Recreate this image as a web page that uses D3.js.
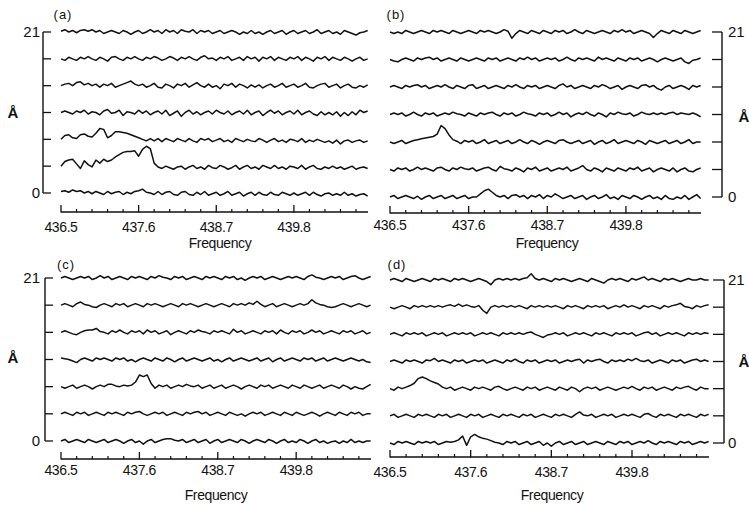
<!DOCTYPE html>
<html><head><meta charset="utf-8">
<script src="https://d3js.org/d3.v7.min.js"></script>
<style>html,body{margin:0;padding:0;background:#fff;}svg{display:block;}</style>
</head><body>
<svg id="chart" width="749" height="506"></svg>
<script>
// ---------------- DATA ----------------
const freqs = [436.5,436.555,436.61,436.665,436.72,436.775,436.83,436.885,436.94,436.995,
437.05,437.105,437.16,437.215,437.27,437.325,437.38,437.435,437.49,437.545,
437.6,437.655,437.71,437.765,437.82,437.875,437.93,437.985,438.04,438.095,
438.15,438.205,438.26,438.315,438.37,438.425,438.48,438.535,438.59,438.645,
438.7,438.755,438.81,438.865,438.92,438.975,439.03,439.085,439.14,439.195,
439.25,439.305,439.36,439.415,439.47,439.525,439.58,439.635,439.69,439.745,
439.8,439.855,439.91,439.965,440.02,440.075,440.13,440.185,440.24,440.295,
440.35,440.405,440.46,440.515,440.57,440.625,440.68,440.735,440.79,440.845];
const levels = [0, 3.5, 7, 10.5, 14, 17.5, 21];
const yTickLabels = {0: "0", 21: "21"};
const majorTicks = [436.5, 437.6, 438.7, 439.8];
const minorTicks = [436.72,436.94,437.16,437.38,437.82,438.04,438.26,438.48,438.92,439.14,439.36,439.58,440.02,440.24,440.46,440.68];
const xLabel = "Frequency";
const yLabel = "Å";

// panel (a): deviation (Å) of each trace from its level, bottom (0) to top (21)
const pa0 = [0.2,0.3,0.1,0.4,0.2,0.3,0.0,0.2,-0.1,0.2, 0.0,-0.2,0.2,-0.1,0.1,0.2,-0.2,0.1,-0.1,0.2, 0.3,0.5,0.1,0.0,-0.2,0.2,-0.2,0.1,0.2,-0.2, -0.3,0.1,0.2,-0.2,-0.3,0.1,-0.2,0.2,-0.3,-0.1, 0.1,-0.3,-0.1,0.2,-0.3,-0.1,0.1,-0.4,-0.1,0.1, -0.3,0.1,-0.2,-0.3,0.1,-0.2,-0.3,0.1,-0.1,-0.3, 0.0,-0.3,-0.1,0.1,-0.3,0.1,-0.2,-0.4,-0.1,0.0, -0.3,-0.1,-0.3,0.1,-0.3,-0.1,-0.4,-0.2,-0.1,-0.4];
const pa1 = [0.0,0.6,0.8,0.9,0.3,-0.3,0.7,0.2,-0.1,0.8, 0.4,0.9,0.6,0.8,1.2,1.5,1.8,1.9,1.9,2.0, 1.3,2.2,2.6,2.3,0.4,-0.1,-0.3,0.0,-0.2,-0.4, -0.1,0.0,-0.4,-0.1,0.1,-0.3,-0.1,-0.4,0.1,-0.2, -0.3,0.1,-0.1,-0.4,-0.2,0.1,-0.4,-0.1,0.1,-0.3, -0.1,-0.4,0.1,-0.1,-0.3,0.1,-0.3,-0.1,-0.4,0.0, -0.1,-0.3,0.1,-0.4,-0.1,0.1,-0.3,-0.4,-0.1,-0.3, 0.0,-0.3,-0.1,-0.4,-0.2,0.0,-0.4,-0.2,-0.1,-0.3];
const pa2 = [0.0,0.5,0.6,0.2,0.1,0.6,0.7,0.4,0.3,0.8, 1.4,1.3,0.2,0.5,1.0,1.0,0.9,0.8,0.6,0.4, 0.2,0.0,-0.2,0.1,-0.2,0.1,-0.3,0.1,-0.1,-0.3, 0.1,-0.1,-0.3,0.1,-0.2,-0.4,0.1,-0.1,0.1,-0.3, -0.1,0.1,-0.3,-0.1,-0.4,0.1,-0.1,-0.3,0.0,-0.2, -0.3,0.1,-0.1,-0.4,-0.1,0.1,-0.3,-0.1,-0.4,0.0, -0.1,-0.3,0.1,-0.4,-0.1,-0.3,0.0,-0.2,-0.4,-0.2, -0.5,-0.1,-0.6,-0.2,-0.1,-0.4,-0.2,-0.1,-0.4,-0.2];
const pa3 = [0.0,0.2,0.0,-0.2,0.2,0.0,0.3,-0.2,0.1,0.0, -0.3,0.2,0.4,-0.1,0.0,0.3,-0.4,0.1,0.0,-0.2, 0.3,-0.1,0.2,-0.3,0.0,0.2,-0.2,0.3,-0.4,-0.1, 0.2,-0.5,0.0,0.3,-0.2,0.1,-0.3,0.0,0.2,-0.2, 0.3,0.0,-0.2,0.2,-0.3,0.0,0.2,-0.2,0.3,-0.3, 0.0,0.2,-0.4,0.0,0.3,-0.1,0.2,-0.3,0.0,0.2, -0.2,0.3,-0.3,0.0,0.2,-0.2,-0.4,0.1,-0.3,0.0, -0.3,0.1,-0.5,0.0,-0.4,0.1,-0.3,0.3,0.0,0.2];
const pa4 = [0.0,0.2,0.3,0.0,0.4,0.5,0.1,0.3,0.0,0.2, -0.2,0.2,0.0,0.3,-0.2,0.0,0.2,0.4,0.6,0.2, 0.0,0.2,-0.2,0.0,0.3,-0.2,-0.3,0.2,0.0,-0.3, 0.2,0.0,0.3,-0.2,0.1,0.4,0.0,-0.2,0.2,-0.2, 0.0,-0.4,0.2,0.0,0.3,-0.2,0.2,0.0,-0.3,0.1, -0.2,0.1,-0.3,0.0,0.2,-0.2,0.0,0.3,-0.2,0.0, 0.2,-0.2,0.0,0.3,-0.2,-0.3,0.0,0.2,0.3,-0.2, 0.0,0.2,-0.3,0.0,0.2,-0.2,-0.3,0.0,-0.2,0.1];
const pa5 = [0.0,-0.2,0.2,0.0,-0.2,0.2,0.0,0.3,0.0,-0.2, 0.2,0.0,-0.3,0.2,0.3,0.0,-0.2,0.2,0.0,0.3, 0.0,-0.2,0.2,0.0,0.3,0.1,-0.2,0.0,0.3,0.1, -0.2,0.2,0.0,0.3,0.0,-0.2,0.2,0.4,0.0,0.1, -0.2,0.2,0.0,0.3,-0.2,0.0,0.2,-0.2,0.3,0.0, 0.2,-0.3,0.2,0.0,0.3,-0.2,0.2,0.0,-0.2,0.2, 0.0,0.3,-0.2,0.2,0.0,-0.3,0.2,0.0,0.3,-0.2, 0.2,0.0,-0.2,0.2,0.0,-0.3,0.0,0.2,-0.2,0.0];
const pa6 = [0.1,0.3,0.0,0.2,-0.1,0.2,0.3,0.1,0.3,0.0, 0.2,-0.2,0.0,0.2,0.0,-0.2,0.2,0.0,-0.3,0.0, 0.2,-0.2,0.0,0.3,0.0,0.2,-0.2,0.3,0.0,0.2, -0.2,0.3,0.1,0.0,0.3,-0.2,0.2,0.0,0.2,-0.2, 0.0,0.2,-0.2,0.0,0.2,0.0,-0.3,0.0,-0.2,0.2, -0.2,0.0,-0.3,0.0,0.2,-0.2,0.0,0.2,-0.3,0.0, 0.2,-0.2,0.0,0.2,-0.2,0.0,0.3,-0.2,0.0,0.2, -0.2,0.0,-0.3,0.2,0.0,-0.2,-0.4,-0.1,0.0,0.2];

// panel (b)
const pb0 = [0.0,0.2,-0.2,0.0,0.2,0.0,-0.2,0.1,-0.3,0.0, 0.2,-0.2,0.0,0.2,-0.2,0.0,0.2,-0.2,0.0,0.2, -0.2,0.0,0.0,0.4,0.8,1.0,0.6,0.2,0.0,0.2, -0.2,0.2,0.3,0.0,0.2,-0.2,0.2,0.0,0.3,-0.2, 0.2,0.0,0.4,0.1,-0.2,0.0,0.2,-0.2,0.0,0.2, -0.3,0.0,0.2,-0.2,0.0,0.3,-0.2,0.0,-0.3,0.2, 0.0,-0.2,0.2,0.0,-0.3,0.0,0.2,-0.2,0.0,-0.3, 0.2,-0.2,-0.3,0.0,-0.2,0.2,-0.3,0.0,0.3,-0.2];
const pb1 = [0.0,-0.2,0.2,0.0,0.2,-0.2,0.0,0.3,0.0,0.2, 0.0,-0.2,0.2,0.3,0.0,-0.2,0.2,0.0,0.3,0.1, 0.0,0.2,-0.2,0.0,0.2,0.3,0.0,-0.2,0.4,0.1, 0.0,-0.2,0.2,0.0,-0.3,0.2,0.0,0.3,-0.2,0.0, 0.2,-0.2,0.0,0.2,0.0,0.3,-0.2,0.0,0.2,0.5, 0.0,-0.2,0.2,0.0,-0.3,0.2,0.0,-0.2,0.2,0.0, -0.2,0.2,0.0,0.3,-0.2,0.0,0.2,-0.3,0.0,0.2, 0.0,-0.2,0.2,-0.3,0.0,0.2,-0.2,-0.3,0.0,0.2];
const pb2 = [0.0,-0.2,0.0,0.2,-0.2,0.0,0.2,0.3,0.4,0.5, 0.6,0.7,1.0,2.1,1.7,0.9,0.3,0.1,-0.2,0.2, 0.0,0.2,-0.2,0.0,0.3,-0.2,0.0,0.2,-0.2,0.0, 0.2,-0.2,0.0,0.3,0.0,-0.2,0.2,0.0,-0.3,0.0, 0.2,0.0,-0.2,0.2,0.3,0.0,-0.2,0.0,0.2,-0.2, 0.0,0.2,-0.3,0.0,0.2,-0.2,0.0,0.3,-0.2,0.0, 0.2,0.0,-0.2,0.2,0.0,-0.3,0.2,0.0,-0.2,0.0, 0.2,-0.2,0.0,0.2,-0.2,0.0,0.3,-0.2,0.0,0.0];
const pb3 = [0.0,0.2,0.0,0.2,-0.2,0.0,0.3,0.0,-0.2,0.2, 0.0,0.2,-0.2,0.0,0.2,0.0,0.3,0.1,0.0,-0.2, 0.2,0.0,-0.2,0.2,0.0,0.2,0.3,0.0,-0.2,0.2, 0.0,0.2,-0.2,0.0,0.3,0.1,0.0,-0.2,0.2,0.0, 0.2,-0.2,0.0,0.3,0.0,0.2,-0.3,0.0,0.2,0.0, 0.3,0.0,-0.2,0.2,0.0,-0.3,0.2,0.0,0.3,0.1, 0.0,0.2,-0.2,0.0,0.3,0.1,0.0,0.2,0.0,0.2, 0.0,0.2,0.3,0.0,0.2,0.1,0.0,0.2,0.0,-0.3];
const pb4 = [0.0,0.2,0.0,-0.2,0.2,0.0,0.2,0.3,0.0,0.2, -0.2,0.0,0.2,0.0,0.3,0.0,-0.2,0.2,0.0,-0.2, 0.2,0.3,-0.2,0.0,0.2,-0.2,0.0,0.2,0.0,-0.2, 0.2,0.0,0.3,0.0,-0.2,0.2,0.0,0.2,-0.2,0.0, 0.2,0.0,-0.2,0.2,0.4,0.0,0.2,-0.2,0.0,0.2, 0.0,-0.2,0.2,0.0,0.3,0.1,-0.2,0.0,0.2,-0.3, 0.0,0.2,0.0,-0.2,0.2,0.3,0.0,0.2,-0.2,-0.4, 0.0,0.2,-0.2,0.0,0.2,0.0,-0.3,0.2,0.0,0.2];
const pb5 = [0.0,-0.2,-0.3,0.0,0.2,0.0,-0.2,0.2,0.0,0.2, 0.3,0.0,0.2,-0.2,0.0,0.2,0.0,-0.2,0.2,0.0, -0.2,0.0,0.2,0.0,-0.2,0.2,0.0,0.2,-0.2,0.0, 0.2,0.0,-0.2,0.2,0.0,0.3,0.0,0.2,-0.2,0.0, 0.2,0.0,0.2,-0.2,0.0,0.3,0.0,-0.2,0.2,0.0, 0.2,0.0,-0.2,0.3,0.0,0.2,0.0,-0.2,0.2,0.0, -0.2,0.2,0.0,0.2,-0.2,0.0,0.2,0.0,-0.3,0.0, 0.2,0.0,-0.2,0.0,0.2,-0.3,-0.5,-0.1,0.0,0.2];
const pb6 = [0.0,-0.2,0.0,-0.2,0.2,0.0,-0.2,0.0,0.2,0.0, -0.2,0.2,0.0,0.2,0.0,-0.2,0.2,0.0,-0.2,0.0, 0.2,0.0,-0.2,0.2,0.0,0.2,0.0,-0.2,0.0,0.3, 0.1,-0.8,-0.2,0.2,0.0,-0.2,0.2,0.0,-0.2,0.2, 0.0,-0.2,0.2,0.0,0.2,-0.2,0.0,0.3,0.0,-0.2, 0.2,0.0,-0.2,0.0,0.2,0.0,-0.2,0.2,0.0,0.3, 0.0,0.2,-0.2,0.0,0.2,0.0,-0.2,-0.7,-0.2,0.2, 0.0,-0.2,0.2,0.0,-0.2,0.2,0.0,-0.2,0.0,0.2];

// panel (c)
const pc0 = [0.0,0.2,-0.2,0.0,0.2,0.0,-0.2,0.2,0.0,-0.2, 0.0,0.2,-0.2,0.0,0.2,0.0,-0.3,0.0,0.2,-0.2, 0.0,-0.4,0.0,0.2,-0.2,0.0,0.2,0.3,0.3,0.1, 0.0,0.2,-0.2,0.0,0.2,-0.2,0.0,0.2,-0.3,0.0, 0.2,-0.2,0.0,0.2,0.0,-0.2,0.2,0.0,-0.3,0.0, 0.2,0.0,-0.2,0.2,0.0,-0.3,0.0,0.2,-0.2,0.0, -0.2,0.2,0.0,-0.3,0.0,0.2,-0.2,0.0,-0.3,-0.1, 0.0,-0.3,0.0,-0.2,0.2,-0.2,0.0,-0.2,0.0,0.0];
const pc1 = [0.0,0.2,0.0,-0.2,0.2,0.0,0.2,-0.2,0.0,0.2, 0.0,-0.2,0.2,0.0,0.2,0.0,-0.2,0.2,0.0,0.2, 0.3,0.0,-0.2,0.0,0.2,0.0,0.2,-0.2,0.0,0.2, 0.0,-0.2,0.2,0.0,0.2,0.3,0.0,0.2,-0.2,0.0, 0.2,0.0,-0.2,0.2,0.0,-0.2,0.0,-0.3,0.0,0.2, 0.0,0.2,-0.2,0.0,0.2,0.0,-0.2,0.2,0.0,-0.2, 0.2,0.0,-0.2,0.0,0.2,0.0,-0.3,0.0,0.2,0.0, -0.2,0.2,0.0,-0.2,0.2,0.0,0.2,-0.2,0.0,0.0];
const pc2 = [0.0,-0.2,0.0,0.2,-0.2,0.0,0.2,0.0,-0.3,0.0, 0.2,0.0,0.3,0.3,0.1,0.0,0.2,0.1,0.2,0.6, 1.5,1.3,1.5,0.4,-0.2,0.2,0.0,0.2,-0.2,0.0, 0.2,0.0,0.3,0.1,0.0,0.2,-0.2,0.0,0.2,-0.2, 0.0,0.2,-0.2,0.0,0.2,0.0,-0.3,0.0,0.2,0.0, -0.2,0.2,0.0,0.2,-0.2,0.0,0.2,0.0,-0.2,0.2, 0.0,-0.2,0.2,0.0,-0.2,0.0,0.2,-0.2,0.0,0.2, 0.0,-0.2,0.2,0.0,-0.3,0.0,-0.2,-0.3,0.0,0.3];
const pc3 = [0.2,0.1,0.0,-0.2,-0.4,0.0,0.2,0.0,-0.2,0.2, 0.0,0.2,0.0,-0.2,0.2,0.0,0.2,-0.2,0.0,-0.3, 0.0,0.2,0.0,-0.2,0.2,0.0,-0.2,0.2,0.0,-0.3, 0.0,0.2,-0.2,0.0,0.2,0.0,-0.2,0.0,0.2,-0.2, 0.0,-0.3,0.0,0.2,-0.2,0.0,0.2,0.0,-0.2,0.0, 0.2,-0.2,0.0,0.2,-0.3,0.0,0.2,-0.2,0.0,0.2, 0.0,-0.2,0.2,0.0,0.2,-0.2,0.0,0.2,-0.2,0.0, 0.2,0.0,-0.2,0.0,0.2,0.0,-0.2,0.0,-0.3,-0.4];
const pc4 = [0.0,0.2,0.0,-0.2,-0.3,0.0,0.2,0.3,0.3,0.5, 0.1,0.0,-0.2,0.2,0.0,0.3,0.0,-0.2,0.2,0.0, 0.2,-0.2,0.3,0.0,0.2,-0.2,0.0,0.2,-0.3,0.0, 0.2,0.0,-0.2,0.2,0.0,0.3,0.1,0.0,-0.2,0.2, 0.0,0.2,0.0,-0.2,0.4,0.0,0.2,-0.2,0.0,0.2, 0.0,-0.2,0.2,0.0,0.2,-0.2,0.3,0.0,-0.2,0.2, 0.0,0.2,-0.2,0.0,0.3,0.0,0.2,-0.2,0.0,0.2, 0.0,-0.2,0.2,0.0,0.2,-0.2,0.0,0.2,-0.2,0.0];
const pc5 = [0.0,0.2,0.0,-0.2,0.2,0.4,0.1,0.0,-0.2,-0.3, 0.0,0.2,0.0,-0.2,0.2,0.0,0.2,-0.2,0.0,0.2, 0.0,-0.2,0.2,0.0,0.2,0.0,-0.2,0.0,0.2,0.0, -0.2,0.2,0.0,0.2,0.0,-0.2,0.0,0.2,0.0,-0.2, 0.0,0.2,0.0,-0.2,0.2,0.0,0.2,0.0,0.3,0.1, 0.5,0.1,-0.2,0.0,0.2,-0.2,0.0,0.2,0.0,-0.2, 0.0,0.2,0.0,0.2,0.7,0.3,0.1,0.0,-0.2,-0.3, -0.2,0.0,0.2,0.0,-0.2,0.0,0.2,0.0,-0.2,0.0];
const pc6 = [0.0,0.2,0.0,-0.2,0.0,0.2,0.0,0.2,-0.2,0.0, 0.3,0.0,0.2,-0.2,0.0,0.2,0.0,-0.2,0.2,0.0, 0.2,0.0,-0.2,0.2,0.0,0.3,0.1,0.0,-0.2,0.2, 0.0,0.2,-0.2,0.0,0.2,0.0,-0.2,0.2,0.0,0.2, 0.0,-0.2,0.2,0.0,0.2,-0.2,0.0,-0.3,0.0,0.2, 0.0,0.2,-0.2,0.0,0.2,0.0,-0.2,0.0,0.2,0.0, 0.2,0.0,-0.2,0.2,0.4,0.1,0.0,-0.2,0.0,0.2, 0.0,0.2,-0.2,0.0,0.2,0.3,0.0,-0.2,0.0,0.2];

// panel (d)
const pd0 = [0.0,-0.2,0.2,0.0,0.2,0.0,-0.2,0.2,0.0,0.2, 0.0,0.2,-0.2,0.0,0.2,0.1,0.2,0.4,0.9,-0.3, 0.8,1.1,0.8,0.6,0.5,0.3,0.1,0.0,-0.2,0.2, 0.0,0.2,-0.2,0.0,0.2,-0.2,0.0,0.2,-0.3,0.0, -0.4,0.0,0.2,-0.2,0.0,0.2,-0.2,0.0,0.2,-0.2, 0.0,0.2,0.0,-0.2,0.2,0.0,-0.2,0.2,0.0,0.2, -0.2,0.0,0.2,0.0,0.3,0.0,-0.2,0.2,0.0,0.2, 0.0,-0.2,0.2,0.0,0.2,-0.2,0.0,0.2,0.0,0.2];
const pd1 = [0.0,0.2,-0.2,0.0,0.2,0.0,-0.2,0.2,0.0,0.2, 0.0,-0.2,0.2,0.0,0.2,-0.2,0.0,0.2,0.0,-0.2, 0.2,0.0,0.2,-0.2,0.0,0.2,0.0,-0.2,0.2,0.0, 0.2,0.0,-0.2,0.2,0.0,0.2,-0.2,0.0,0.2,0.0, -0.2,0.2,0.0,0.2,0.0,-0.2,0.2,0.5,0.1,0.0, 0.2,-0.2,0.0,0.2,0.0,0.2,-0.2,0.0,0.2,0.0, 0.2,0.0,-0.2,0.2,0.3,0.0,-0.2,0.2,0.0,0.2, 0.0,-0.2,0.2,0.0,0.2,0.0,-0.2,0.2,0.0,0.2];
const pd2 = [0.0,-0.2,0.2,0.0,0.2,0.4,0.7,1.3,1.5,1.3, 1.0,0.8,0.6,0.2,0.0,0.2,-0.2,0.0,0.2,0.0, -0.2,0.2,0.0,0.2,0.0,-0.2,0.2,0.3,0.0,-0.2, 0.0,0.2,0.0,-0.2,0.2,0.0,0.2,-0.2,0.0,0.2, 0.0,-0.2,0.2,0.0,-0.2,0.2,0.0,-0.4,0.0,0.2, 0.0,0.2,-0.2,0.0,0.2,0.0,-0.2,0.0,0.2,0.0, 0.3,0.0,-0.2,0.2,0.0,0.2,-0.2,0.0,0.2,0.0, -0.2,0.2,0.0,0.2,0.3,0.0,-0.2,0.2,0.0,0.0];
const pd3 = [0.0,0.2,0.0,-0.2,0.2,0.0,0.2,0.0,-0.2,0.2, 0.1,0.4,0.0,0.2,0.0,-0.2,0.2,0.0,0.2,-0.2, 0.0,0.2,0.0,0.2,-0.2,0.0,0.2,0.0,-0.2,0.2, 0.0,0.3,0.0,-0.2,0.2,0.0,0.2,-0.2,0.0,0.2, 0.0,0.2,-0.2,0.0,0.2,0.0,0.2,0.3,-0.2,0.2, 0.0,0.2,0.3,0.0,-0.2,0.2,0.0,0.2,0.0,0.3, 0.1,0.4,0.1,0.0,0.2,-0.2,0.0,0.2,0.0,-0.2, 0.2,0.0,0.2,-0.2,0.0,0.2,0.3,0.0,0.2,0.0];
const pd4 = [0.0,0.2,0.0,-0.2,0.2,0.0,0.2,0.0,0.2,-0.2, 0.0,0.2,0.0,0.2,-0.2,0.0,0.2,0.0,0.2,0.0, 0.2,-0.2,0.0,0.2,0.0,0.2,0.0,-0.2,0.2,0.0, 0.2,0.0,0.2,0.0,0.2,0.3,0.0,-0.2,-0.4,-0.1, 0.0,0.2,0.0,0.2,-0.2,0.0,0.2,0.0,0.2,0.0, -0.2,0.2,0.0,0.2,0.0,-0.2,0.2,0.0,0.2,0.0, 0.2,-0.2,0.0,0.2,0.3,0.0,0.2,-0.2,0.0,0.2, 0.0,0.2,0.0,-0.2,0.2,0.0,0.2,0.0,0.2,0.1];
const pd5 = [0.0,-0.2,0.0,0.2,0.0,-0.2,0.2,0.0,0.2,0.0, 0.2,0.0,0.2,0.0,0.2,0.3,0.1,0.4,0.1,0.3, 0.1,0.0,0.2,-0.4,-0.8,0.0,0.2,0.0,0.2,0.0, 0.2,0.0,0.2,0.0,-0.2,0.2,0.0,0.2,0.0,0.2, 0.0,0.2,0.0,-0.2,0.2,0.0,0.2,0.0,-0.2,0.2, 0.0,0.2,0.0,0.2,-0.2,0.0,0.2,0.0,0.3,0.0, 0.2,0.0,-0.2,0.2,0.0,0.2,0.0,-0.2,0.2,0.0, 0.2,0.3,0.5,0.1,0.0,-0.2,0.2,0.0,0.2,0.3];
const pd6 = [0.0,0.2,0.0,-0.2,0.2,0.0,-0.2,0.0,0.2,0.0, -0.2,0.2,0.0,0.2,0.0,-0.2,0.2,0.0,0.2,0.0, -0.2,0.0,0.2,0.0,-0.2,-0.6,0.0,0.2,0.0,0.2, 0.0,0.2,0.0,0.2,0.3,0.8,0.2,0.0,0.2,0.0, -0.2,0.2,0.0,0.2,0.0,-0.2,0.0,0.2,0.0,-0.2, 0.2,0.0,-0.2,-0.4,0.0,0.2,0.0,0.2,0.0,-0.2, 0.2,0.0,0.2,0.4,0.0,0.2,0.0,-0.2,0.2,0.0, 0.2,0.0,-0.2,0.0,0.2,0.0,0.0,0.2,0.0,0.0];

// ---------------- LAYOUT ----------------
const panels = [
  {label:"(a)", traces:[pa0,pa1,pa2,pa3,pa4,pa5,pa6], xr:[61,368], yr:[193,32], axisY:212, side:"left", axisX:43, tickLen:8,
   labelPos:[63,19], aPos:[13,113], freqPos:[220,248], tickLabelY:232, yLabX:40},
  {label:"(b)", traces:[pb0,pb1,pb2,pb3,pb4,pb5,pb6], xr:[390,701], yr:[197,32], axisY:213, side:"right", axisX:722, tickLen:10,
   labelPos:[396,19], aPos:[744,117], freqPos:[547,248], tickLabelY:230, yLabX:728},
  {label:"(c)", traces:[pc0,pc1,pc2,pc3,pc4,pc5,pc6], xr:[61,371], yr:[441,278], axisY:459, side:"left", axisX:45, tickLen:8,
   labelPos:[66,269], aPos:[13,358], freqPos:[216,500], tickLabelY:475, yLabX:40},
  {label:"(d)", traces:[pd0,pd1,pd2,pd3,pd4,pd5,pd6], xr:[390,709], yr:[443,280], axisY:457, side:"right", axisX:724, tickLen:11,
   labelPos:[397,269], aPos:[744,362], freqPos:[552,500], tickLabelY:477, yLabX:728}
];

const svg = d3.select("#chart");
const ink = "#111";
const font = "'Liberation Sans', Arial, Helvetica, sans-serif";

panels.forEach(p => {
  const x = d3.scaleLinear().domain([436.5, 440.85]).range(p.xr);
  const y = d3.scaleLinear().domain([0, 21]).range(p.yr);
  const g = svg.append("g");

  // traces
  const line = d3.line().x((d,i) => x(freqs[i])).y(d => d);
  p.traces.forEach((tr, k) => {
    const pts = tr.map(v => y(levels[k] + v));
    g.append("path").attr("d", line(pts)).attr("fill","none")
      .attr("stroke", ink).attr("stroke-width", 1.5).attr("stroke-linejoin","round");
  });

  // x axis
  const ax = g.append("g").attr("transform", `translate(0,${p.axisY})`);
  ax.append("line").attr("x1", x(436.5)).attr("x2", x(440.85)).attr("y1",0).attr("y2",0)
    .attr("stroke", ink).attr("stroke-width", 1.3);
  ax.selectAll("line.minor").data(minorTicks).enter().append("line").attr("class","minor")
    .attr("x1", d=>x(d)).attr("x2", d=>x(d)).attr("y1",0).attr("y2",-3)
    .attr("stroke", ink).attr("stroke-width", 1.2);
  ax.selectAll("line.major").data(majorTicks).enter().append("line").attr("class","major")
    .attr("x1", d=>x(d)).attr("x2", d=>x(d)).attr("y1",0.5).attr("y2",-7)
    .attr("stroke", ink).attr("stroke-width", 1.3);
  g.selectAll("text.xt").data(majorTicks).enter().append("text").attr("class","xt")
    .attr("x", d=>x(d)).attr("y", p.tickLabelY).attr("text-anchor","middle")
    .attr("font-family", font).attr("font-size", 14).attr("fill", ink)
    .attr("letter-spacing", "-0.4").text(d => d.toFixed(1));
  g.append("text").attr("x", p.freqPos[0]).attr("y", p.freqPos[1]).attr("text-anchor","middle")
    .attr("font-family", font).attr("font-size", 14).attr("letter-spacing", "-0.4").attr("fill", ink).text(xLabel);

  // y axis
  g.append("line").attr("x1", p.axisX).attr("x2", p.axisX).attr("y1", y(0)).attr("y2", y(21))
    .attr("stroke", ink).attr("stroke-width", 1.4);
  const dir = p.side === "left" ? 1 : -1;
  g.selectAll("line.yt").data(levels).enter().append("line").attr("class","yt")
    .attr("x1", p.axisX).attr("x2", p.axisX + dir*p.tickLen)
    .attr("y1", d=>y(d)).attr("y2", d=>y(d)).attr("stroke", ink).attr("stroke-width", 1.3);
  g.selectAll("text.yl").data(levels.filter(v => yTickLabels[v] !== undefined)).enter().append("text")
    .attr("class","yl").attr("x", p.yLabX).attr("y", d => y(d) + 5)
    .attr("text-anchor", p.side === "left" ? "end" : "start")
    .attr("font-family", font).attr("font-size", 15).attr("fill", ink).text(d => yTickLabels[d]);
  g.append("text").attr("x", p.aPos[0]).attr("y", p.aPos[1] + 5).attr("text-anchor","middle")
    .attr("font-family", font).attr("font-size", 15).attr("font-weight","bold").attr("fill", ink).text(yLabel);

  // panel label
  g.append("text").attr("x", p.labelPos[0]).attr("y", p.labelPos[1]).attr("text-anchor","middle")
    .attr("font-family", font).attr("font-size", 13).attr("letter-spacing", "1").attr("fill", ink).text(p.label);
});
</script>
</body></html>
